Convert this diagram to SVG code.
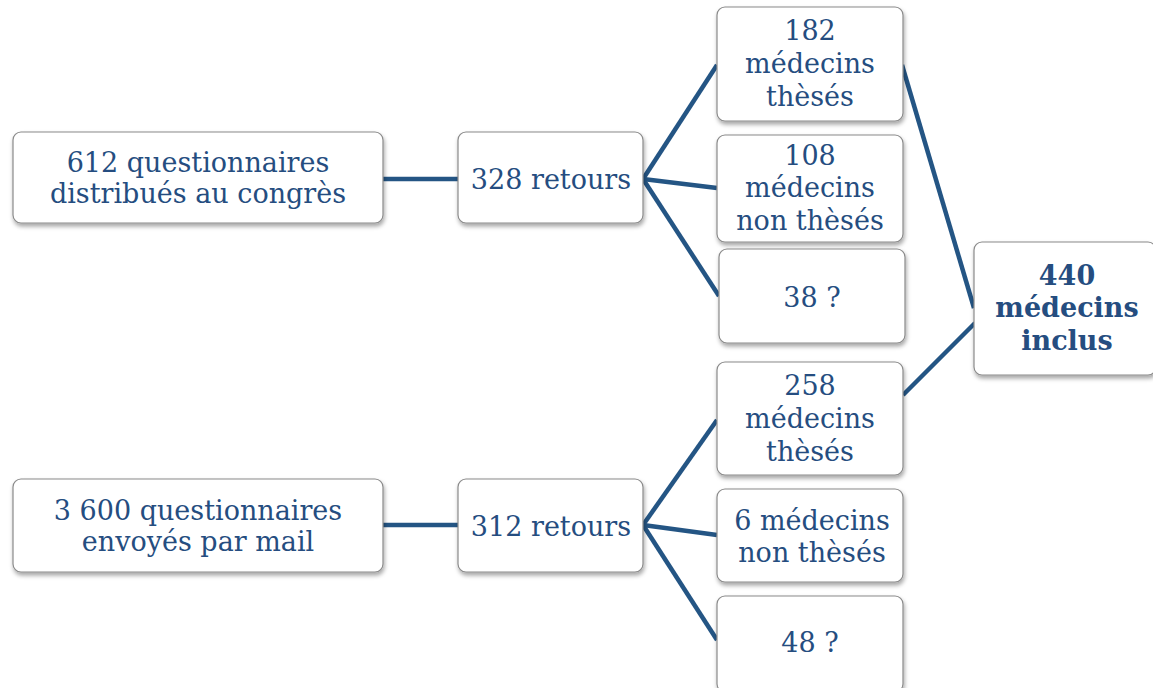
<svg xmlns="http://www.w3.org/2000/svg" width="1153" height="688" viewBox="0 0 1153 688">
<defs>
<filter id="sh" x="-10%" y="-10%" width="130%" height="140%">
<feDropShadow dx="1" dy="3" stdDeviation="2" flood-color="#000" flood-opacity="0.35"/>
</filter>
<style>
.box{fill:#fff;stroke:#8a8a8a;stroke-width:1.2;filter:url(#sh)}
.t{font-family:"DejaVu Serif","Liberation Serif",serif;font-size:27px;fill:#254d80;text-anchor:middle}
.b{font-weight:bold}
.c{stroke:#245584;stroke-width:4.5;fill:none;stroke-linecap:butt}
</style>
</defs>
<rect width="1153" height="688" fill="#fff"/>
<g id="connectors">
<line class="c" x1="383" y1="179" x2="458" y2="179"/>
<line class="c" x1="643" y1="179" x2="717" y2="65"/>
<line class="c" x1="643" y1="179" x2="717" y2="188"/>
<line class="c" x1="643" y1="179" x2="719" y2="296"/>
<line class="c" x1="902" y1="65" x2="974" y2="308"/>
<line class="c" x1="903" y1="395" x2="975" y2="323"/>
<line class="c" x1="383" y1="525" x2="458" y2="525"/>
<line class="c" x1="643" y1="525" x2="717" y2="420"/>
<line class="c" x1="643" y1="525" x2="717" y2="535"/>
<line class="c" x1="643" y1="525" x2="717" y2="640"/>
</g>
<g id="n_congres">
<rect class="box" x="13" y="132" width="370" height="91" rx="8"/>
<text class="t" x="198" y="172">612 questionnaires</text>
<text class="t" x="198" y="203">distribués au congrès</text>
</g>
<g id="n_retours1">
<rect class="box" x="458" y="132" width="185" height="91" rx="8"/>
<text class="t" x="551" y="189">328 retours</text>
</g>
<g id="n_182">
<rect class="box" x="717" y="7" width="186" height="114" rx="8"/>
<text class="t" x="810" y="40">182</text>
<text class="t" x="810" y="73">médecins</text>
<text class="t" x="810" y="106">thèsés</text>
</g>
<g id="n_108">
<rect class="box" x="717" y="135" width="186" height="107" rx="8"/>
<text class="t" x="810" y="165">108</text>
<text class="t" x="810" y="197">médecins</text>
<text class="t" x="810" y="230">non thèsés</text>
</g>
<g id="n_38">
<rect class="box" x="719" y="249" width="186" height="94" rx="8"/>
<text class="t" x="812" y="307">38 ?</text>
</g>
<g id="n_440">
<rect class="box" x="974" y="242" width="182" height="133" rx="8"/>
<text class="t b" x="1067" y="285">440</text>
<text class="t b" x="1067" y="317">médecins</text>
<text class="t b" x="1067" y="350">inclus</text>
</g>
<g id="n_mail">
<rect class="box" x="13" y="479" width="370" height="93" rx="8"/>
<text class="t" x="198" y="520">3 600 questionnaires</text>
<text class="t" x="198" y="551">envoyés par mail</text>
</g>
<g id="n_retours2">
<rect class="box" x="458" y="479" width="185" height="93" rx="8"/>
<text class="t" x="551" y="536">312 retours</text>
</g>
<g id="n_258">
<rect class="box" x="717" y="362" width="186" height="113" rx="8"/>
<text class="t" x="810" y="395">258</text>
<text class="t" x="810" y="428">médecins</text>
<text class="t" x="810" y="461">thèsés</text>
</g>
<g id="n_6">
<rect class="box" x="717" y="489" width="186" height="93" rx="8"/>
<text class="t" x="812" y="530">6 médecins</text>
<text class="t" x="812" y="562">non thèsés</text>
</g>
<g id="n_48">
<rect class="box" x="717" y="596" width="186" height="96" rx="8"/>
<text class="t" x="810" y="652">48 ?</text>
</g>
</svg>
